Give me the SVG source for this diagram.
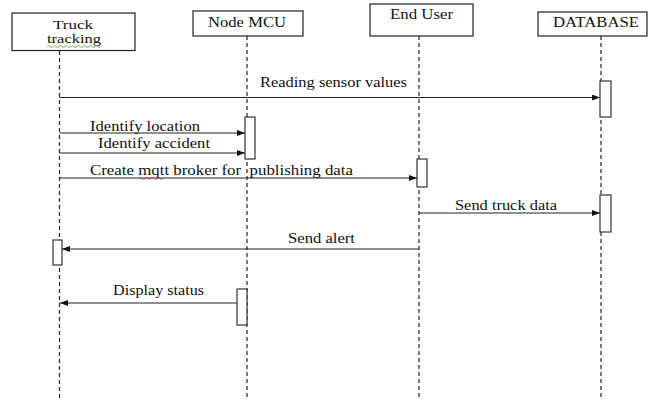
<svg xmlns="http://www.w3.org/2000/svg" width="652" height="400" viewBox="0 0 652 400">
<style>
.box{fill:#fff;stroke:#222;stroke-width:1.2}
.life{stroke:#333;stroke-width:1.3;stroke-dasharray:4,3;fill:none}
.act{fill:#fff;stroke:#333;stroke-width:1.2}
.msg{stroke:#222;stroke-width:1.1;fill:none;marker-end:url(#ah)}
text{font-family:"Liberation Serif","Times New Roman",serif;font-size:14.5px;fill:#111}
.sm{font-size:12.5px}
</style>
<defs>
<marker id="ah" markerWidth="8" markerHeight="6" refX="8" refY="3" orient="auto" markerUnits="userSpaceOnUse">
<path d="M0,0 L8,3 L0,6 z" fill="#111"/>
</marker>
</defs>
<rect width="652" height="400" fill="#fff"/>
<g id="lifelines">
<line class="life" x1="59.5" y1="51" x2="59.5" y2="400"/>
<line class="life" x1="247" y1="36" x2="247" y2="400"/>
<line class="life" x1="419" y1="36" x2="419" y2="400"/>
<line class="life" x1="601" y1="36" x2="601" y2="400"/>
</g>
<g id="truck">
<rect class="box" x="12" y="13" width="123" height="37.5"/>
<text class="sm" x="53" y="28.5" textLength="40" lengthAdjust="spacingAndGlyphs">Truck</text>
<text class="sm" x="47" y="43" textLength="54" lengthAdjust="spacingAndGlyphs">tracking</text>
<path d="M47,46.5 q1.5,-2 3,0 t3,0 t3,0 t3,0 t3,0 t3,0 t3,0 t3,0 t3,0 t3,0 t3,0 t3,0 t3,0 t3,0 t3,0 t3,0 t3,0 t3,0" stroke="#3a3" stroke-width="0.8" fill="none"/>
</g>
<g id="nodemcu">
<rect class="box" x="193" y="11" width="110" height="25"/>
<text x="208" y="27" textLength="78" lengthAdjust="spacingAndGlyphs">Node MCU</text>
</g>
<g id="enduser">
<rect class="box" x="370" y="4" width="103" height="32"/>
<text x="390" y="19" textLength="63" lengthAdjust="spacingAndGlyphs">End User</text>
</g>
<g id="database">
<rect class="box" x="538" y="12" width="109" height="24"/>
<text x="553" y="27" textLength="86" lengthAdjust="spacingAndGlyphs">DATABASE</text>
</g>
<g id="activations">
<rect class="act" x="600" y="81" width="11" height="36"/>
<rect class="act" x="245" y="117" width="10" height="42"/>
<rect class="act" x="417" y="159" width="10" height="28"/>
<rect class="act" x="600" y="195" width="11" height="37"/>
<rect class="act" x="53" y="240" width="9" height="25"/>
<rect class="act" x="237" y="289" width="10" height="36"/>
</g>
<g id="connectors">
<line class="msg" x1="59.5" y1="97.5" x2="600" y2="97.5"/>
<line class="msg" x1="59.5" y1="133" x2="245" y2="133"/>
<line class="msg" x1="59.5" y1="153" x2="245" y2="153"/>
<line class="msg" x1="59.5" y1="178" x2="417" y2="178"/>
<line class="msg" x1="419" y1="213" x2="600" y2="213"/>
<line class="msg" x1="419" y1="249" x2="62" y2="249"/>
<line class="msg" x1="237" y1="303" x2="60" y2="303"/>
</g>
<g id="labels">
<text x="260" y="87" textLength="147" lengthAdjust="spacingAndGlyphs">Reading sensor values</text>
<text x="90" y="131" textLength="110" lengthAdjust="spacingAndGlyphs">Identify location</text>
<text x="98" y="148" textLength="112" lengthAdjust="spacingAndGlyphs">Identify accident</text>
<text x="90" y="175" textLength="263" lengthAdjust="spacingAndGlyphs" xml:space="preserve">Create mqtt broker for  publishing data</text>
<path d="M139,178.5 q1.5,-2 3,0 t3,0 t3,0 t3,0 t3,0 t3,0 t3,0 t3,0" stroke="#d22" stroke-width="0.8" fill="none"/>
<text x="455" y="210" textLength="102" lengthAdjust="spacingAndGlyphs">Send truck data</text>
<text x="288" y="243" textLength="67" lengthAdjust="spacingAndGlyphs">Send alert</text>
<text x="113" y="295" textLength="91" lengthAdjust="spacingAndGlyphs">Display status</text>
</g>
</svg>
